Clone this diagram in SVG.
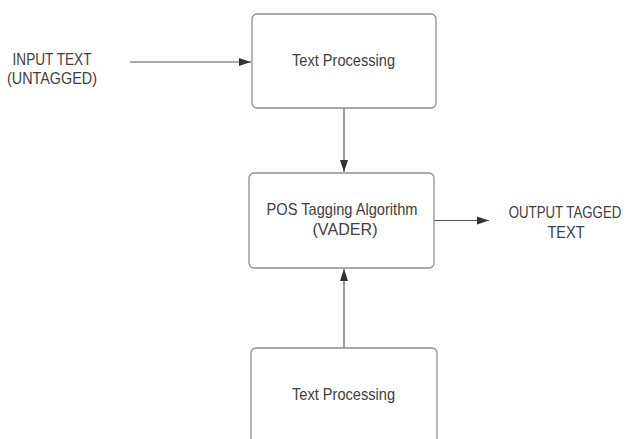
<svg xmlns="http://www.w3.org/2000/svg" width="633" height="439" viewBox="0 0 633 439">
<style>
.box{fill:#fff;stroke:#8f8f8f;stroke-width:1.3}
.t{font-family:"Liberation Sans",Arial,sans-serif;font-size:17px;fill:#404040;text-anchor:middle}
.c{stroke:#555;stroke-width:1.2;fill:none;marker-end:url(#ah)}
</style>
<defs>
<marker id="ah" viewBox="0 0 12 10" refX="12" refY="5" markerWidth="12" markerHeight="10" markerUnits="userSpaceOnUse" orient="auto">
<path d="M0,1 L12,5 L0,9 Z" fill="#333"/>
</marker>
</defs>
<rect width="633" height="439" fill="#fff"/>
<g id="connectors">
<line class="c" x1="130" y1="62" x2="251" y2="62"/>
<line class="c" x1="344" y1="108" x2="344" y2="172"/>
<line class="c" x1="434" y1="220.5" x2="489" y2="220.5"/>
<line class="c" x1="344" y1="348" x2="344" y2="269"/>
</g>
<g id="input">
<text class="t" x="52" y="65" textLength="79" lengthAdjust="spacingAndGlyphs">INPUT TEXT</text>
<text class="t" x="52" y="84" textLength="90" lengthAdjust="spacingAndGlyphs">(UNTAGGED)</text>
</g>
<g id="node1">
<rect class="box" x="252" y="14" width="184" height="94" rx="5"/>
<text class="t" x="343.5" y="66" textLength="103" lengthAdjust="spacingAndGlyphs">Text Processing</text>
</g>
<g id="node2">
<rect class="box" x="249" y="173" width="185" height="95" rx="5"/>
<text class="t" x="342" y="215" textLength="151" lengthAdjust="spacingAndGlyphs">POS Tagging Algorithm</text>
<text class="t" x="345" y="235" textLength="65" lengthAdjust="spacingAndGlyphs">(VADER)</text>
</g>
<g id="output">
<text class="t" transform="translate(565,218) scale(0.78,1)" x="0" y="0">OUTPUT TAGGED</text>
<text class="t" x="566" y="238" textLength="37" lengthAdjust="spacingAndGlyphs">TEXT</text>
</g>
<g id="node3">
<rect class="box" x="251" y="348" width="186" height="110" rx="5"/>
<text class="t" x="343.5" y="400" textLength="103" lengthAdjust="spacingAndGlyphs">Text Processing</text>
</g>
</svg>
